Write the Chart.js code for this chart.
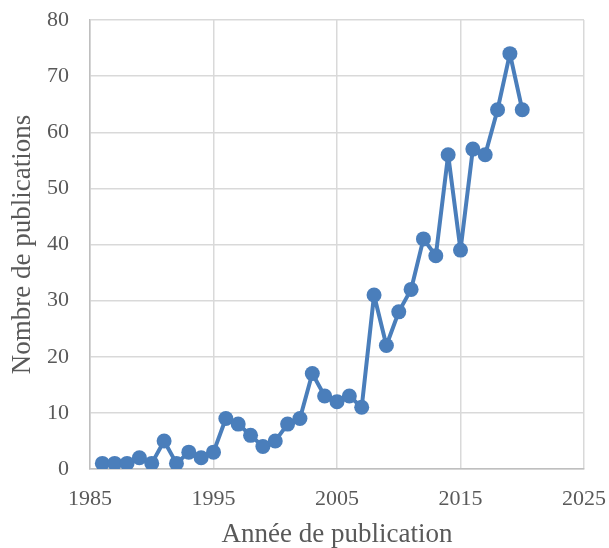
<!DOCTYPE html>
<html>
<head>
<meta charset="utf-8">
<script src="https://cdn.jsdelivr.net/npm/chart.js@4.4.1/dist/chart.umd.min.js"></script>
<style>
  html, body { margin: 0; padding: 0; background: #ffffff; }
  #wrap { width: 609px; height: 548px; }
</style>
</head>
<body>
<div id="wrap"><canvas id="chart" width="609" height="548"></canvas></div>
<script>
// Publications per year
const years = [1986, 1987, 1988, 1989, 1990, 1991, 1992, 1993, 1994, 1995,
               1996, 1997, 1998, 1999, 2000, 2001, 2002, 2003, 2004, 2005,
               2006, 2007, 2008, 2009, 2010, 2011, 2012, 2013, 2014, 2015,
               2016, 2017, 2018, 2019, 2020];
const counts = [1, 1, 1, 2, 1, 5, 1, 3, 2, 3,
                9, 8, 6, 4, 5, 8, 9, 17, 13, 12,
                13, 11, 31, 22, 28, 32, 41, 38, 56, 39,
                57, 56, 64, 74, 64];

const xTicks = [1985, 1995, 2005, 2015, 2025];
const yTicks = [0, 10, 20, 30, 40, 50, 60, 70, 80];

const xTitle = 'Année de publication';
const yTitle = 'Nombre de publications';

const points = years.map((y, i) => ({ x: y, y: counts[i] }));

const textColor = '#595959';
const gridColor = '#d9d9d9';
const axisColor = '#bfbfbf';
const serif = "'Liberation Serif', 'Times New Roman', serif";

// Keep the plot area fixed: tick labels may overflow into the outer margin.
function noOverflow(scale) {
  scale.paddingTop = 0;
  scale.paddingBottom = 0;
  scale.paddingLeft = 0;
  scale.paddingRight = 0;
}

new Chart(document.getElementById('chart'), {
  type: 'line',
  data: {
    datasets: [{
      data: points,
      borderColor: '#4a7ebb',
      backgroundColor: '#4a7ebb',
      borderWidth: 4,
      borderJoinStyle: 'round',
      borderCapStyle: 'round',
      pointRadius: 7.5,
      pointHoverRadius: 7.5,
      pointBorderWidth: 0,
      tension: 0
    }]
  },
  options: {
    responsive: false,
    animation: false,
    layout: { padding: { top: 20, right: 25, bottom: 0, left: 0 } },
    plugins: {
      legend: { display: false },
      tooltip: { enabled: false }
    },
    scales: {
      x: {
        type: 'linear',
        min: 1985,
        max: 2025,
        afterBuildTicks: (scale) => { scale.ticks = xTicks.map(v => ({ value: v })); },
        afterFit: (scale) => { scale.height = 79; noOverflow(scale); },
        ticks: {
          color: textColor,
          font: { family: serif, size: 22 },
          padding: 17,
          maxRotation: 0,
          callback: (v) => String(v)
        },
        grid: { color: gridColor, lineWidth: 1.5, drawTicks: false },
        border: { color: axisColor, width: 1.5 },
        title: {
          display: true,
          text: xTitle,
          color: textColor,
          font: { family: serif, size: 27 },
          padding: { top: 0, bottom: -3 }
        }
      },
      y: {
        min: 0,
        max: 80,
        afterBuildTicks: (scale) => { scale.ticks = yTicks.map(v => ({ value: v })); },
        afterFit: (scale) => { scale.width = 90; noOverflow(scale); },
        ticks: {
          color: textColor,
          font: { family: serif, size: 22 },
          padding: 21
        },
        grid: { color: gridColor, lineWidth: 1.5, drawTicks: false },
        border: { color: axisColor, width: 1.5 },
        title: {
          display: true,
          text: yTitle,
          color: textColor,
          font: { family: serif, size: 27 },
          padding: { top: 7, bottom: 0 }
        }
      }
    }
  }
});
</script>
</body>
</html>
